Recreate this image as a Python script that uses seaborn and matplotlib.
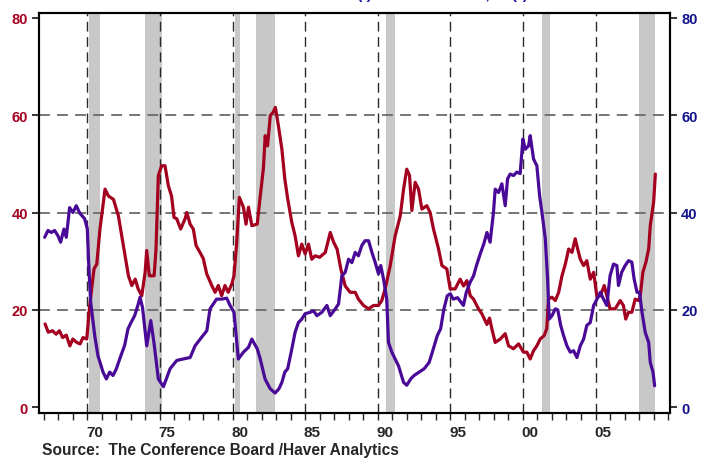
import matplotlib
matplotlib.use('Agg')

import pandas as pd
import seaborn as sns
import matplotlib.pyplot as plt
from matplotlib.ticker import FixedLocator

sns.set_style('ticks')
plt.rcParams['font.family'] = ['Liberation Sans', 'DejaVu Sans']

# ---------- data ----------
red_years = [1967.09, 1967.31, 1967.60, 1967.85, 1968.08, 1968.30, 1968.55, 1968.80, 1969.00, 1969.27,
             1969.50, 1969.70, 1969.96, 1970.14, 1970.46, 1970.65, 1970.87, 1971.22, 1971.45, 1971.80,
             1972.14, 1972.37, 1972.60, 1972.83, 1973.06, 1973.30, 1973.50, 1973.75, 1973.98, 1974.09,
             1974.27, 1974.60, 1974.73, 1974.89, 1975.12, 1975.35, 1975.58, 1975.80, 1975.97, 1976.16,
             1976.43, 1976.73, 1976.85, 1977.08, 1977.30, 1977.49, 1977.76, 1977.99, 1978.22, 1978.57,
             1978.80, 1979.02, 1979.25, 1979.48, 1979.70, 1979.95, 1980.10, 1980.29, 1980.47, 1980.75,
             1980.93, 1981.10, 1981.33, 1981.70, 1981.90, 1982.13, 1982.25, 1982.41, 1982.60, 1982.80,
             1982.95, 1983.16, 1983.40, 1983.60, 1983.80, 1984.08, 1984.31, 1984.54, 1984.77, 1985.00,
             1985.23, 1985.46, 1985.69, 1986.00, 1986.39, 1986.73, 1986.96, 1987.20, 1987.46, 1987.76,
             1988.10, 1988.45, 1988.67, 1989.02, 1989.37, 1989.71, 1990.05, 1990.28, 1990.51, 1990.86,
             1991.20, 1991.55, 1991.78, 1992.00, 1992.19, 1992.35, 1992.58, 1992.81, 1993.04, 1993.38,
             1993.61, 1993.84, 1994.19, 1994.42, 1994.76, 1994.99, 1995.33, 1995.68, 1995.91, 1996.14,
             1996.37, 1996.60, 1996.94, 1997.17, 1997.52, 1997.70, 1997.86, 1998.09, 1998.44, 1998.78,
             1999.01, 1999.35, 1999.70, 2000.04, 2000.27, 2000.50, 2000.73, 2000.96, 2001.19, 2001.46,
             2001.64, 2001.76, 2002.00, 2002.23, 2002.46, 2002.69, 2002.92, 2003.15, 2003.38, 2003.60,
             2003.77, 2003.95, 2004.18, 2004.40, 2004.64, 2004.87, 2005.10, 2005.33, 2005.60, 2005.78,
             2006.00, 2006.35, 2006.70, 2006.92, 2007.08, 2007.27, 2007.50, 2007.73, 2007.97, 2008.08,
             2008.26, 2008.47, 2008.66, 2008.77, 2008.93, 2009.00, 2009.12]
red_vals = [17.1, 15.4, 15.7, 15.0, 15.7, 14.3, 14.8, 12.6, 14.0, 13.3,
            13.0, 14.3, 14.0, 20.2, 28.4, 29.4, 36.6, 44.8, 43.4, 42.7,
            39.3, 35.2, 31.1, 27.0, 25.0, 26.3, 24.3, 22.9, 27.7, 32.2,
            27.0, 27.0, 32.5, 47.6, 49.6, 49.6, 45.5, 43.4, 39.0, 38.7,
            36.6, 38.7, 40.0, 37.6, 36.6, 33.2, 31.8, 30.5, 27.4, 25.0,
            23.6, 25.0, 22.9, 25.0, 23.6, 25.3, 27.0, 33.9, 43.1, 41.1,
            37.6, 41.1, 37.3, 37.6, 43.1, 49.2, 55.8, 53.7, 59.9, 60.6,
            61.6, 57.8, 53.0, 46.9, 42.8, 38.0, 35.2, 31.1, 33.5, 31.5,
            33.5, 30.4, 31.1, 30.8, 31.8, 35.9, 33.9, 32.5, 28.4, 24.9,
            23.6, 23.6, 22.2, 20.9, 20.2, 20.9, 20.9, 21.9, 24.3, 29.1,
            35.2, 39.3, 44.8, 48.9, 47.6, 40.4, 46.2, 44.8, 40.7, 41.4,
            40.0, 36.6, 32.5, 29.1, 28.4, 24.3, 24.3, 26.3, 24.9, 26.0,
            22.9, 22.2, 20.2, 19.2, 17.0, 18.3, 16.1, 13.3, 14.0, 15.1,
            12.6, 12.0, 13.0, 11.3, 11.3, 9.9, 11.6, 12.6, 14.0, 14.7,
            16.1, 22.2, 22.6, 21.9, 23.6, 27.0, 29.4, 32.5, 31.8, 34.6,
            32.5, 30.4, 29.1, 30.1, 26.3, 27.7, 22.6, 22.9, 25.0, 22.9,
            20.2, 20.2, 21.9, 20.9, 18.1, 19.5, 19.5, 22.2, 21.9, 22.9,
            27.7, 29.8, 32.5, 37.3, 40.7, 42.1, 47.9]

purple_years = [1967.06, 1967.29, 1967.52, 1967.75, 1967.98, 1968.16, 1968.39, 1968.55, 1968.78, 1969.01,
                1969.24, 1969.47, 1969.82, 1970.00, 1970.09, 1970.23, 1970.51, 1970.73, 1971.08, 1971.31,
                1971.54, 1971.77, 1972.00, 1972.23, 1972.57, 1972.80, 1973.03, 1973.26, 1973.49, 1973.63,
                1973.80, 1974.09, 1974.37, 1974.60, 1974.89, 1975.24, 1975.70, 1976.16, 1976.60, 1977.08,
                1977.42, 1977.88, 1978.23, 1978.45, 1978.90, 1979.25, 1979.60, 1979.83, 1980.10, 1980.40,
                1980.75, 1981.10, 1981.33, 1981.70, 1981.90, 1982.24, 1982.59, 1982.93, 1983.20, 1983.40,
                1983.60, 1983.80, 1984.08, 1984.31, 1984.54, 1984.77, 1985.00, 1985.35, 1985.58, 1985.81,
                1986.15, 1986.50, 1986.73, 1987.08, 1987.30, 1987.53, 1987.76, 1987.99, 1988.22, 1988.45,
                1988.67, 1988.90, 1989.13, 1989.37, 1989.60, 1989.83, 1990.05, 1990.21, 1990.40, 1990.62,
                1990.74, 1990.97, 1991.20, 1991.43, 1991.78, 1992.00, 1992.15, 1992.27, 1992.50, 1992.85,
                1993.20, 1993.54, 1993.76, 1994.10, 1994.33, 1994.56, 1994.79, 1995.00, 1995.20, 1995.50,
                1995.90, 1996.10, 1996.37, 1996.60, 1996.80, 1997.06, 1997.30, 1997.52, 1997.74, 1997.97,
                1998.09, 1998.32, 1998.55, 1998.78, 1998.94, 1999.12, 1999.35, 1999.58, 1999.81, 2000.00,
                2000.16, 2000.39, 2000.50, 2000.73, 2000.96, 2001.15, 2001.31, 2001.54, 2001.70, 2001.81,
                2002.00, 2002.23, 2002.40, 2002.60, 2002.80, 2003.03, 2003.26, 2003.49, 2003.72, 2003.95,
                2004.18, 2004.40, 2004.64, 2004.87, 2005.10, 2005.33, 2005.55, 2005.78, 2006.00, 2006.24,
                2006.47, 2006.58, 2006.80, 2007.04, 2007.27, 2007.50, 2007.66, 2007.86, 2008.03, 2008.20,
                2008.42, 2008.66, 2008.77, 2008.96, 2009.07]
purple_vals = [34.9, 36.3, 35.9, 36.3, 35.2, 33.9, 36.6, 34.9, 41.0, 40.0,
               41.4, 39.9, 38.7, 36.6, 29.8, 21.6, 14.7, 10.6, 7.2, 5.8,
               7.2, 6.5, 7.9, 9.9, 12.7, 16.1, 17.5, 18.8, 21.0, 22.6,
               20.5, 12.6, 17.8, 13.0, 5.8, 4.2, 7.9, 9.6, 9.9, 10.2,
               12.6, 14.4, 15.7, 20.2, 22.2, 22.2, 22.4, 20.9, 19.5, 9.9,
               11.3, 12.3, 14.0, 12.0, 10.0, 5.8, 3.8, 2.9, 3.8, 5.1,
               7.2, 7.9, 11.9, 15.4, 17.4, 18.1, 19.2, 19.5, 19.8, 18.8,
               19.5, 20.9, 18.8, 20.2, 21.2, 27.0, 27.7, 30.4, 29.7, 31.8,
               31.1, 33.2, 34.2, 34.2, 31.8, 29.7, 27.4, 29.1, 26.3, 22.2,
               13.3, 11.3, 9.9, 8.5, 5.1, 4.5, 5.2, 5.8, 6.5, 7.2,
               7.9, 9.2, 11.3, 14.7, 16.1, 20.2, 22.9, 23.3, 22.2, 22.5,
               20.9, 23.6, 25.7, 27.0, 29.1, 31.5, 33.5, 35.9, 33.9, 40.0,
               44.8, 44.1, 45.9, 41.4, 46.9, 47.9, 47.6, 48.3, 48.0, 55.1,
               53.0, 53.7, 55.8, 51.0, 49.6, 43.4, 40.0, 34.6, 26.3, 18.1,
               18.8, 20.2, 20.0, 16.8, 14.7, 12.6, 11.3, 11.6, 10.2, 12.6,
               14.0, 16.8, 17.4, 20.9, 22.2, 23.6, 22.2, 20.9, 27.0, 29.4,
               29.1, 25.0, 27.7, 29.1, 30.1, 29.8, 26.3, 23.6, 23.6, 19.5,
               15.4, 13.3, 9.2, 7.2, 4.4]

recession_start = [1970.12, 1973.97, 1980.16, 1981.64, 1990.56, 2001.33, 2008.01]
recession_end = [1970.90, 1975.15, 1980.50, 1982.91, 1991.18, 2001.88, 2009.12]
year_lines = [1970, 1975, 1980, 1985, 1990, 1995, 2000, 2005]
year_labels = ['70', '75', '80', '85', '90', '95', '00', '05']
y_ticks = [0, 20, 40, 60, 80]
grid_levels = [20, 40, 60]

RED = '#a4001f'
PURPLE = '#4a0a98'
NAVY = '#12128a'

red_df = pd.DataFrame({'year': red_years, 'value': red_vals})
purple_df = pd.DataFrame({'year': purple_years, 'value': purple_vals})

fig = plt.figure(figsize=(7.01, 4.60), dpi=100)
ax = fig.add_axes([0.0556, 0.1, 0.9002, 0.8696])
ax2 = ax.twinx()

# recession bars + dashed grid
for s, e in zip(recession_start, recession_end):
    ax.axvspan(s, e, color='#c8c8c8', lw=0, zorder=0)
for yv in grid_levels:
    ax.axhline(yv, color='#6a6a6a', lw=1.3, ls=(0, (6, 4)), zorder=1)
for xv in year_lines:
    ax.axvline(xv, color='#2a2a2a', lw=1.0, ls=(0, (7, 4)), zorder=1)

sns.lineplot(data=red_df, x='year', y='value', ax=ax, color=RED, lw=2.3, zorder=3)
sns.lineplot(data=purple_df, x='year', y='value', ax=ax2, color=PURPLE, lw=2.3, zorder=3)

ax.set_xlim(1966.67, 2010.13)
ax.set_ylim(-1.2, 81)
ax2.set_ylim(-1.2, 81)
for a in (ax, ax2):
    a.set_xlabel('')
    a.set_ylabel('')
    for sp in a.spines.values():
        sp.set_color('black')
        sp.set_linewidth(1.5)

# x axis: labels centred in the year, small ticks at each year
ax.set_xticks([y + 0.5 for y in year_lines])
ax.set_xticklabels(year_labels, fontsize=11, fontweight='bold')
ax.tick_params(axis='x', which='major', length=0, pad=9)
ax.xaxis.set_minor_locator(FixedLocator(list(range(1967, 2011))))
ax.tick_params(axis='x', which='minor', length=5, width=1, direction='out')

ax.set_yticks(y_ticks)
ax.set_yticklabels([str(v) for v in y_ticks], fontsize=10.5, fontweight='bold', color=RED)
ax.tick_params(axis='y', length=5, width=1.3, direction='out', pad=3)
ax2.set_yticks(y_ticks)
ax2.set_yticklabels([str(v) for v in y_ticks], fontsize=10.5, fontweight='bold', color=NAVY)
ax2.tick_params(axis='y', length=5, width=1.3, direction='out', pad=3)

# title sits almost entirely above the top edge, as in the original
fig.text(0.54, 1 + 1 / 460, 'Jobs Hard to Get (l) / Jobs Plentiful, % (r)',
         fontsize=11, fontweight='bold', color='#1a1aa0', ha='center', va='baseline')
fig.text(42 / 701, 9 / 460, 'Source:  The Conference Board /Haver Analytics',
         fontsize=11.2, fontweight='bold', va='center')

fig.savefig('out.png', dpi=100)
